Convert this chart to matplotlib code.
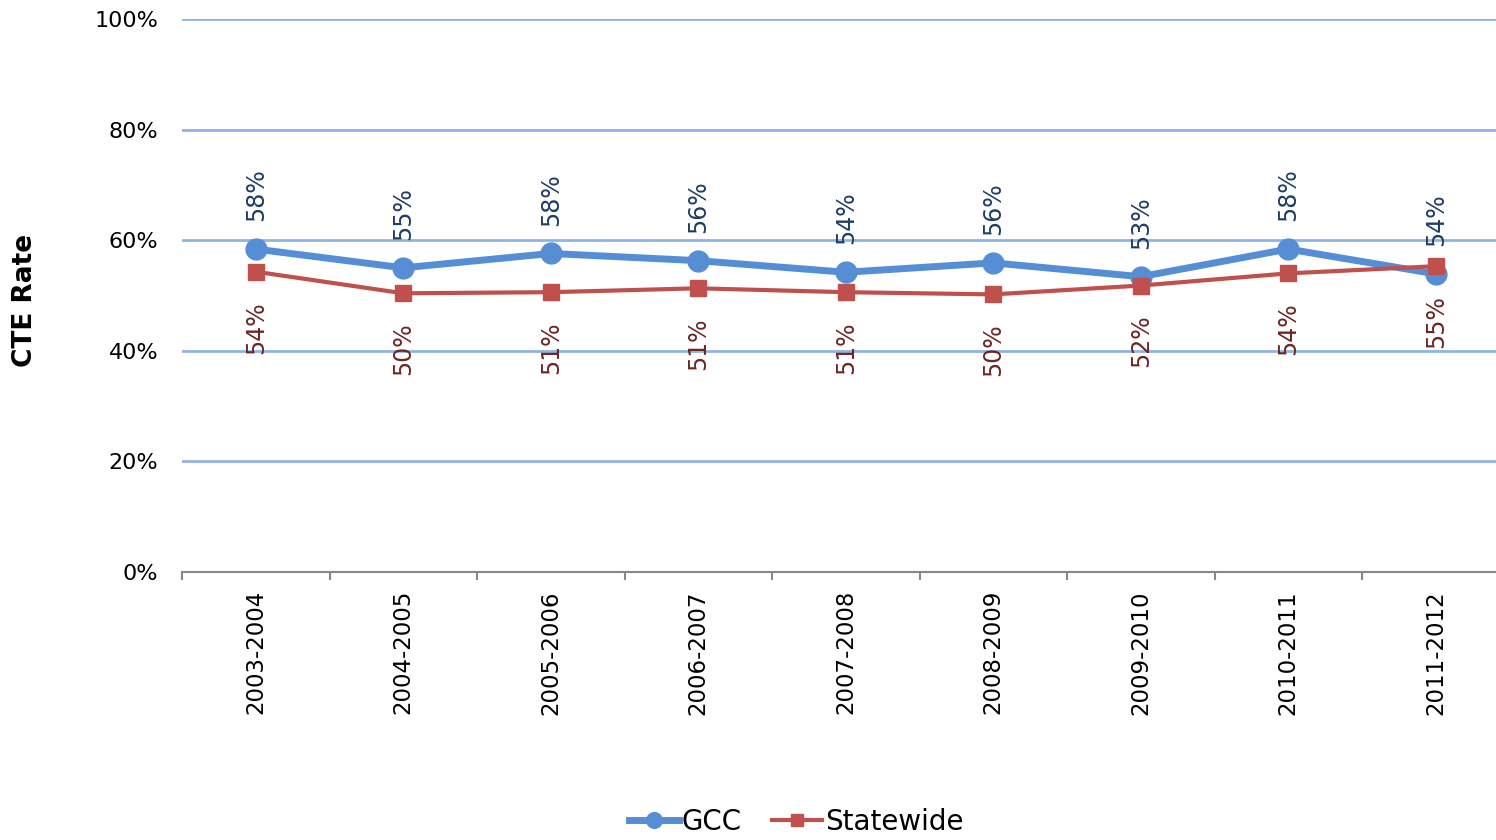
import numpy as np
import matplotlib.pyplot as plt
from matplotlib.ticker import FixedLocator, PercentFormatter

years = ["2003-2004", "2004-2005", "2005-2006", "2006-2007", "2007-2008",
         "2008-2009", "2009-2010", "2010-2011", "2011-2012"]
gcc = [58.4, 55.0, 57.6, 56.3, 54.2, 55.9, 53.4, 58.4, 53.9]
gcc_labels = ["58%", "55%", "58%", "56%", "54%", "56%", "53%", "58%", "54%"]
state = [54.3, 50.4, 50.6, 51.3, 50.6, 50.2, 51.8, 54.0, 55.3]
state_labels = ["54%", "50%", "51%", "51%", "51%", "50%", "52%", "54%", "55%"]

blue = '#558ED5'
red = '#C0504D'
grid_col = '#8EB4E3'

fig = plt.figure(figsize=(14.96, 8.4), dpi=100)
ax = fig.add_axes([182 / 1496, 1 - 572 / 840, (1509.5 - 182) / 1496, (572 - 19) / 840])

x = np.arange(len(years))
ax.plot(x, gcc, color=blue, lw=5, marker='o', ms=15, label='GCC', zorder=4)
ax.plot(x, state, color=red, lw=3, marker='s', ms=11.5, label='Statewide', zorder=5)

# data labels, rotated like the original
for xi, v, t in zip(x, gcc, gcc_labels):
    ax.annotate(t, (xi, v), xytext=(0, 20), textcoords='offset points',
                rotation=90, ha='center', va='bottom', fontsize=17, color='#1F3C64')
for xi, v, t in zip(x, state, state_labels):
    ax.annotate(t, (xi, v), xytext=(0, -21), textcoords='offset points',
                rotation=90, ha='center', va='top', fontsize=17, color='#6B2624')

ax.set_xlim(-0.5, len(years) - 0.5)
ax.set_ylim(0, 100)
ax.set_yticks(np.arange(0, 101, 20))
ax.yaxis.set_major_formatter(PercentFormatter(decimals=0))
ax.tick_params(axis='y', length=0, pad=17, labelsize=16)
ax.grid(axis='y', color=grid_col, lw=2)
ax.set_axisbelow(True)

ax.set_xticks(x)
ax.set_xticklabels(years, rotation=90, fontsize=16.5)
ax.xaxis.set_minor_locator(FixedLocator(np.arange(-0.5, len(years), 1)))
ax.tick_params(axis='x', which='major', length=0, pad=13)
ax.tick_params(axis='x', which='minor', length=6, width=1.5, color='#888888')

for s in ['top', 'right', 'left']:
    ax.spines[s].set_visible(False)
ax.spines['bottom'].set_color('#888888')
ax.spines['bottom'].set_linewidth(1.5)

fig.text(25 / 1496, 1 - 300 / 840, 'CTE Rate', rotation=90, ha='center', va='center',
         fontsize=19, fontweight='bold')

fig.legend(loc='center', bbox_to_anchor=(0.532, 1 - 822 / 840), ncol=2, frameon=False,
           fontsize=20, handlelength=1.8, handletextpad=0.1, columnspacing=1.1,
           markerscale=0.75, borderpad=0)

fig.savefig('out.png', dpi=100)
